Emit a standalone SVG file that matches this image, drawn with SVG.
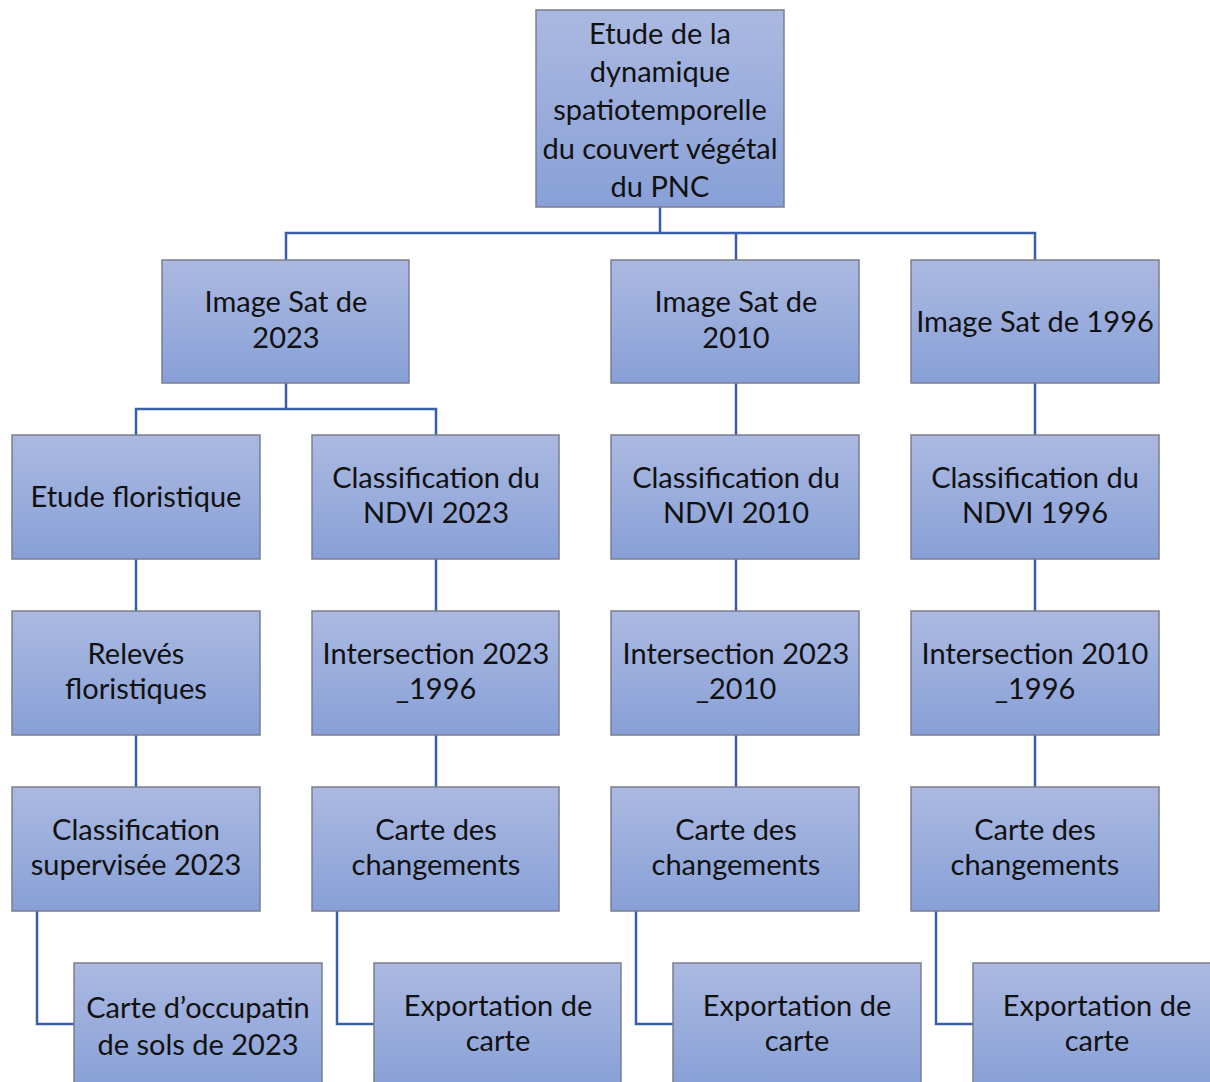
<svg xmlns="http://www.w3.org/2000/svg" width="1210" height="1082" viewBox="0 0 1210 1082">
<defs>
<linearGradient id="g" x1="0" y1="0" x2="0" y2="1">
<stop offset="0" stop-color="#abb9e1"/>
<stop offset="1" stop-color="#88a0d7"/>
</linearGradient>
<style>
.b{fill:url(#g);stroke:#7a7f8c;stroke-width:1.5}
.t{font-family:Lato,"Liberation Sans",sans-serif;font-size:29px;fill:#111;text-anchor:middle}
.c{fill:none;stroke:#3a5fa6;stroke-width:2.5}
</style>
</defs>
<rect width="1210" height="1082" fill="#fff"/>
<g id="connectors">
<path class="c" d="M660 207V233M286 260V233H1035V260M736 233V260"/>
<path class="c" d="M286 383V409M136 435V409H436V435"/>
<path class="c" d="M136 559V611M136 735V787M436 559V611M436 735V787"/>
<path class="c" d="M736 383V435M736 559V611M736 735V787"/>
<path class="c" d="M1035 383V435M1035 559V611M1035 735V787"/>
<path class="c" d="M37 911V1024H74M337 911V1024H374M636 911V1024H673M936 911V1024H973"/>
</g>
<g id="root"><rect class="b" x="536" y="10" width="248" height="197"/>
<text class="t" x="660" y="44">Etude de la</text>
<text class="t" x="660" y="82">dynamique</text>
<text class="t" x="660" y="120">spatiotemporelle</text>
<text class="t" x="660" y="159">du couvert végétal</text>
<text class="t" x="660" y="197">du PNC</text></g>
<g id="img2023"><rect class="b" x="162" y="260" width="247" height="123"/>
<text class="t" x="286" y="312">Image Sat de</text><text class="t" x="286" y="348">2023</text></g>
<g id="img2010"><rect class="b" x="611" y="260" width="248" height="123"/>
<text class="t" x="736" y="312">Image Sat de</text><text class="t" x="736" y="348">2010</text></g>
<g id="img1996"><rect class="b" x="911" y="260" width="248" height="123"/>
<text class="t" x="1035" y="332">Image Sat de 1996</text></g>
<g id="flor"><rect class="b" x="12" y="435" width="248" height="124"/>
<text class="t" x="136" y="507">Etude floristique</text></g>
<g id="ndvi2023"><rect class="b" x="312" y="435" width="247" height="124"/>
<text class="t" x="436" y="488">Classification du</text><text class="t" x="436" y="523">NDVI 2023</text></g>
<g id="ndvi2010"><rect class="b" x="611" y="435" width="248" height="124"/>
<text class="t" x="736" y="488">Classification du</text><text class="t" x="736" y="523">NDVI 2010</text></g>
<g id="ndvi1996"><rect class="b" x="911" y="435" width="248" height="124"/>
<text class="t" x="1035" y="488">Classification du</text><text class="t" x="1035" y="523">NDVI 1996</text></g>
<g id="releves"><rect class="b" x="12" y="611" width="248" height="124"/>
<text class="t" x="136" y="664">Relevés</text><text class="t" x="136" y="699">floristiques</text></g>
<g id="inter2023_1996"><rect class="b" x="312" y="611" width="247" height="124"/>
<text class="t" x="436" y="664">Intersection 2023</text><text class="t" x="436" y="699">_1996</text></g>
<g id="inter2023_2010"><rect class="b" x="611" y="611" width="248" height="124"/>
<text class="t" x="736" y="664">Intersection 2023</text><text class="t" x="736" y="699">_2010</text></g>
<g id="inter2010_1996"><rect class="b" x="911" y="611" width="248" height="124"/>
<text class="t" x="1035" y="664">Intersection 2010</text><text class="t" x="1035" y="699">_1996</text></g>
<g id="classif"><rect class="b" x="12" y="787" width="248" height="124"/>
<text class="t" x="136" y="840">Classification</text><text class="t" x="136" y="875">supervisée 2023</text></g>
<g id="carte1"><rect class="b" x="312" y="787" width="247" height="124"/>
<text class="t" x="436" y="840">Carte des</text><text class="t" x="436" y="875">changements</text></g>
<g id="carte2"><rect class="b" x="611" y="787" width="248" height="124"/>
<text class="t" x="736" y="840">Carte des</text><text class="t" x="736" y="875">changements</text></g>
<g id="carte3"><rect class="b" x="911" y="787" width="248" height="124"/>
<text class="t" x="1035" y="840">Carte des</text><text class="t" x="1035" y="875">changements</text></g>
<g id="occup"><rect class="b" x="74" y="963" width="248" height="124"/>
<text class="t" x="198" y="1018">Carte d’occupatin</text><text class="t" x="198" y="1055">de sols de 2023</text></g>
<g id="export1"><rect class="b" x="374" y="963" width="247" height="124"/>
<text class="t" x="498" y="1016">Exportation de</text><text class="t" x="498" y="1051">carte</text></g>
<g id="export2"><rect class="b" x="673" y="963" width="248" height="124"/>
<text class="t" x="797" y="1016">Exportation de</text><text class="t" x="797" y="1051">carte</text></g>
<g id="export3"><rect class="b" x="973" y="963" width="248" height="124"/>
<text class="t" x="1097" y="1016">Exportation de</text><text class="t" x="1097" y="1051">carte</text></g>
</svg>
